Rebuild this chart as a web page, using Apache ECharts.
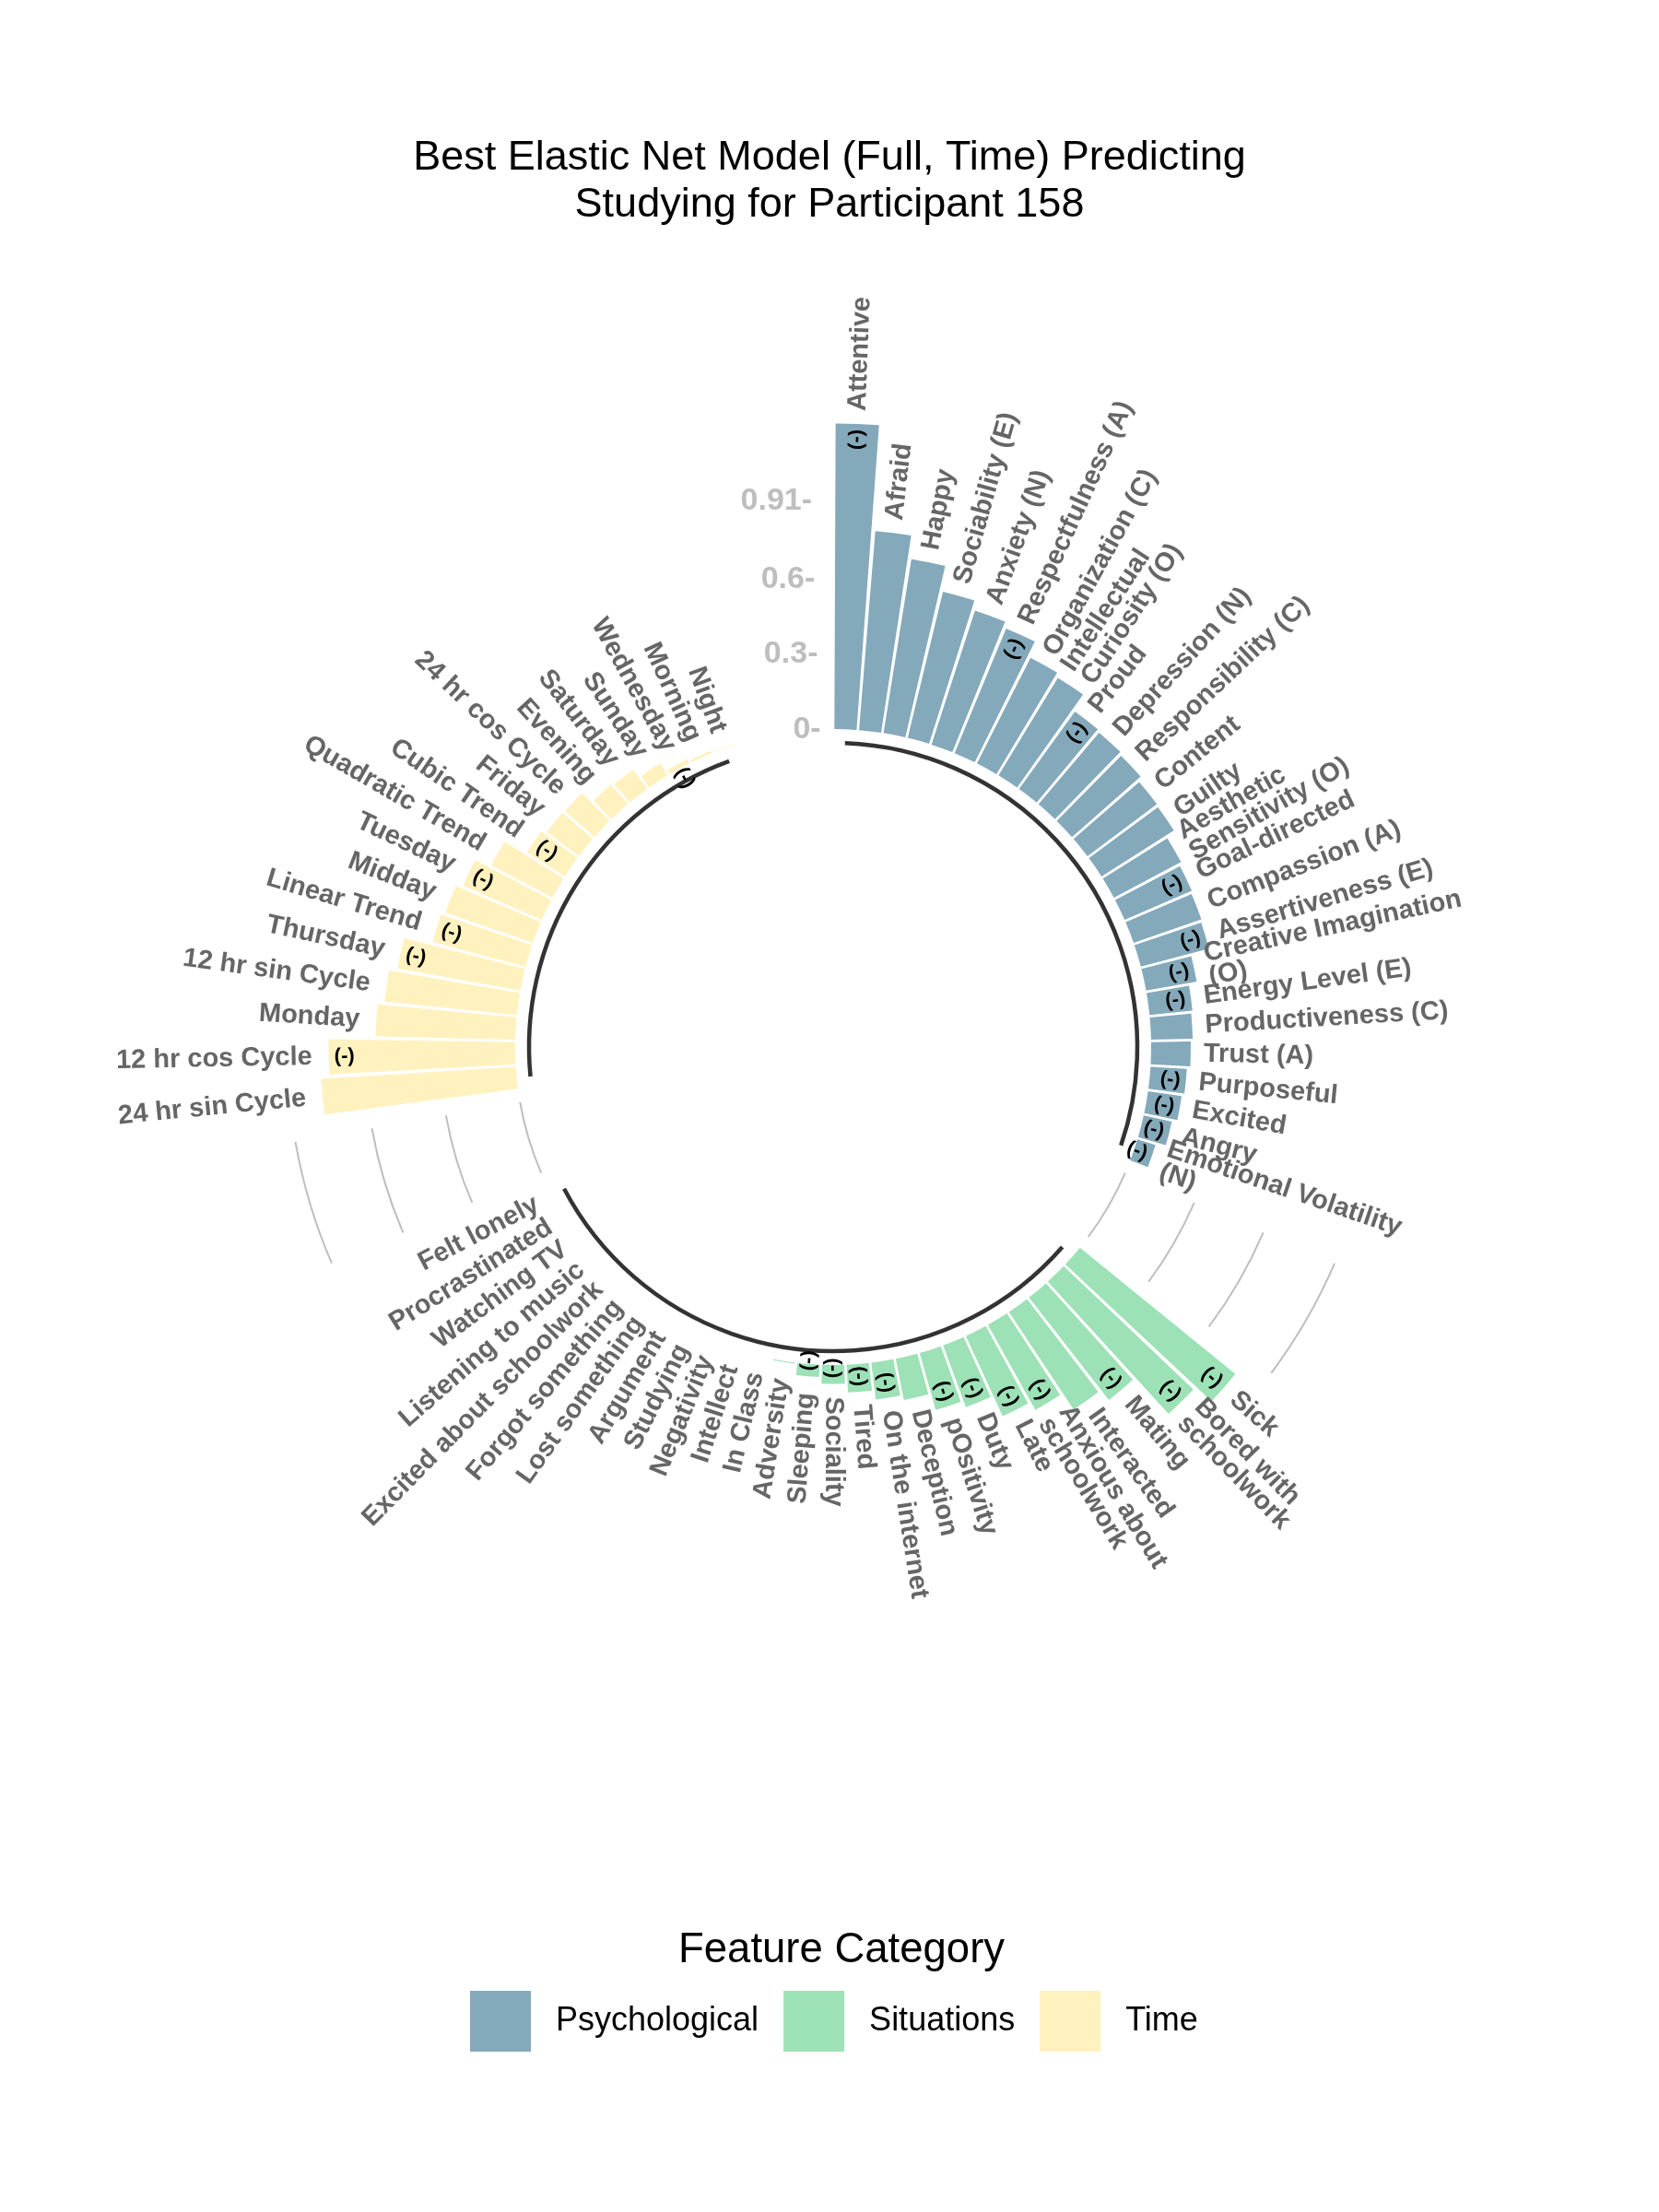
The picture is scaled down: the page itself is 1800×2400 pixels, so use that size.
<!DOCTYPE html>
<html>
<head>
<meta charset="utf-8">
<script src="https://cdn.jsdelivr.net/npm/echarts@6/dist/echarts.min.js"></script>
<style>
html,body{margin:0;padding:0;background:#ffffff;}
#chart{width:1800px;height:2400px;}
</style>
</head>
<body>
<div id="chart"></div>
<script>
// ---------------- DATA ----------------
const psychLabels = ["Attentive","Afraid","Happy","Sociability (E)","Anxiety (N)","Respectfulness (A)","Organization (C)","Intellectual\nCuriosity (O)","Proud","Depression (N)","Responsibility (C)","Content","Guilty","Aesthetic\nSensitivity (O)","Goal-directed","Compassion (A)","Assertiveness (E)","Creative Imagination\n(O)","Energy Level (E)","Productiveness (C)","Trust (A)","Purposeful","Excited","Angry","Emotional Volatility\n(N)"];
const psychValues = [1.219,0.796,0.702,0.600,0.562,0.538,0.472,0.455,0.381,0.374,0.365,0.346,0.342,0.303,0.292,0.286,0.281,0.205,0.172,0.166,0.158,0.145,0.135,0.115,0.075];
const psychNegative = [true,false,false,false,false,true,false,false,true,false,false,false,false,false,true,false,true,true,true,false,false,true,true,true,true];

const situationLabels = ["Sick","Bored with\nschoolwork","Mating","Interacted","Anxious about\nschoolwork","Late","Duty","pOsitivity","Deception","On the internet","Tired","Sociality","Sleeping","Adversity","In Class","Intellect","Negativity","Studying","Argument","Lost something","Forgot something","Excited about schoolwork","Listening to music","Watching TV","Procrastinated","Felt lonely"];
const situationValues = [0.799,0.714,0.518,0.467,0.389,0.352,0.263,0.236,0.168,0.148,0.111,0.075,0.049,0.004,0,0,0,0,0,0,0,0,0,0,0,0];
const situationNegative = [true,true,true,false,true,true,true,true,false,true,true,true,true,false,false,false,false,false,false,false,false,false,false,false,false,false];

const timeLabels = ["24 hr sin Cycle","12 hr cos Cycle","Monday","12 hr sin Cycle","Thursday","Linear Trend","Midday","Tuesday","Quadratic Trend","Cubic Trend","Friday","24 hr cos Cycle","Evening","Saturday","Sunday","Wednesday","Morning","Night"];
const timeValues = [0.778,0.744,0.557,0.530,0.497,0.383,0.368,0.342,0.277,0.179,0.160,0.156,0.103,0.096,0.057,0.020,0.010,0.002];
const timeNegative = [false,true,false,false,true,true,false,true,false,true,false,false,false,false,false,true,false,false];

const groupNames = ["Psychological","Situations","Time"];
const tickValues = [0, 0.3, 0.6, 0.91];
const tickLabels = ["0-", "0.3-", "0.6-", "0.91-"];

// ---------------- STYLE ----------------
const FONT = "'Liberation Sans', Arial, Helvetica, sans-serif";
const groupColors = ["#84A9BB", "#9DE1B6", "#FFF2BF"];
const EMPTY_BARS = 4;
const LABEL_OFFSET_RIGHT = 14;  // px beyond bar end (right half)
const LABEL_OFFSET_LEFT = 18;   // px beyond bar end (left half, flipped)
const NEG_OFFSET = 17;          // px inside bar end
const BASE_OFFSET = 15;         // px inside bar base for black arc

// ---------------- BUILD ----------------
const groups = [
  {labels: psychLabels, values: psychValues, neg: psychNegative},
  {labels: situationLabels, values: situationValues, neg: situationNegative},
  {labels: timeLabels, values: timeValues, neg: timeNegative}
];
const categories = [];
const groupStart = [];
groups.forEach((g, gi) => {
  groupStart.push(categories.length);
  g.labels.forEach(l => categories.push(l));
  for (let k = 0; k < EMPTY_BARS; k++) categories.push('gap_' + gi + '_' + k);
});
const nSlots = categories.length;

const barSeries = groups.map((g, gi) => {
  const arr = new Array(nSlots).fill(null);
  g.values.forEach((v, i) => { arr[groupStart[gi] + i] = v; });
  return {
    name: groupNames[gi], type: 'bar', coordinateSystem: 'polar', stack: 'all',
    barCategoryGap: '10%', data: arr, silent: true,
    itemStyle: {color: groupColors[gi]}
  };
});

const labelItems = [];
groups.forEach((g, gi) => {
  g.labels.forEach((l, i) => {
    labelItems.push({value: g.values[i], slot: groupStart[gi] + i, text: l, neg: g.neg[i]});
  });
});

function polarOf(params, api, v, slot) {
  const cs = params.coordSys;
  const p = api.coord([v, slot]);
  const dx = p[0] - cs.cx, dy = p[1] - cs.cy;
  return {cx: cs.cx, cy: cs.cy, r: Math.hypot(dx, dy), a: Math.atan2(dy, dx)};
}

const labelSeries = {
  type: 'custom', coordinateSystem: 'polar', silent: true, clip: false, z: 5,
  data: labelItems.map((d, i) => [d.value, d.slot, i]),
  renderItem: function (params, api) {
    const d = labelItems[api.value(2)];
    const P = polarOf(params, api, api.value(0), api.value(1));
    const th = ((P.a * 180 / Math.PI) + 90 + 360) % 360;
    const flip = th > 180.001;
    const rot = (flip ? 270 - th : 90 - th) * Math.PI / 180;
    const rl = P.r + (flip ? LABEL_OFFSET_LEFT : LABEL_OFFSET_RIGHT);
    const children = [{
      type: 'text', x: P.cx + rl * Math.cos(P.a), y: P.cy + rl * Math.sin(P.a), rotation: rot,
      style: {text: d.text, fill: '#666666', fontSize: 29, fontWeight: 'bold', fontFamily: FONT,
        align: flip ? 'right' : 'left', verticalAlign: 'middle', lineHeight: 26}
    }];
    if (d.neg) {
      const rn = P.r - NEG_OFFSET;
      children.push({
        type: 'text', x: P.cx + rn * Math.cos(P.a), y: P.cy + rn * Math.sin(P.a), rotation: rot,
        style: {text: '(-)', fill: '#000000', fontSize: 22, fontWeight: 'bold', fontFamily: FONT,
          align: 'center', verticalAlign: 'middle'}
      });
    }
    return {type: 'group', children: children};
  }
};

function arcElement(params, api, v, s1, s2, offset, stroke, width) {
  const A = polarOf(params, api, v, s1);
  const B = polarOf(params, api, v, s2);
  let a2 = B.a;
  while (a2 < A.a) a2 += Math.PI * 2;
  return {
    type: 'arc',
    shape: {cx: A.cx, cy: A.cy, r: A.r - offset, startAngle: A.a, endAngle: a2, clockwise: true},
    style: {stroke: stroke, lineWidth: width, fill: 'none'}
  };
}

const baseArcSeries = {
  type: 'custom', coordinateSystem: 'polar', silent: true, clip: false, z: 4,
  data: groups.map((g, gi) => [0, groupStart[gi], groupStart[gi] + g.labels.length - 1]),
  renderItem: function (params, api) {
    return arcElement(params, api, api.value(0), api.value(1), api.value(2), BASE_OFFSET, '#333333', 4.5);
  }
};

const gridData = [];
for (let gi = 0; gi < groups.length - 1; gi++) {
  const s1 = groupStart[gi] + groups[gi].labels.length;
  tickValues.forEach(t => gridData.push([t, s1, s1 + EMPTY_BARS - 1]));
}
const gridArcSeries = {
  type: 'custom', coordinateSystem: 'polar', silent: true, clip: false, z: 3,
  data: gridData,
  renderItem: function (params, api) {
    return arcElement(params, api, api.value(0), api.value(1), api.value(2), 0, '#BEBEBE', 2);
  }
};

const tickSeries = {
  type: 'custom', coordinateSystem: 'polar', silent: true, clip: false, z: 5,
  data: tickValues.map((t, i) => [t, nSlots - 1, i]),
  renderItem: function (params, api) {
    const p = api.coord([api.value(0), api.value(1)]);
    return {
      type: 'text', x: p[0], y: p[1],
      style: {text: tickLabels[api.value(2)], fill: '#BEBEBE', fontSize: 34, fontWeight: 'bold',
        fontFamily: FONT, align: 'right', verticalAlign: 'middle'}
    };
  }
};

const chart = echarts.init(document.getElementById('chart'), null, {renderer: 'canvas'});
chart.setOption({
  animation: false,
  backgroundColor: '#ffffff',
  title: [
    {text: 'Best Elastic Net Model (Full, Time) Predicting\nStudying for Participant 158',
     left: 'center', top: 141,
     textStyle: {fontSize: 45, fontWeight: 'normal', color: '#000000', fontFamily: FONT, lineHeight: 51}},
    {text: 'Feature Category', left: 731, top: 2088,
     textStyle: {fontSize: 45.5, fontWeight: 'normal', color: '#000000', fontFamily: FONT}}
  ],
  legend: {
    data: groupNames, left: 510, top: 2160, padding: 0, icon: 'rect',
    itemWidth: 66, itemHeight: 66, itemGap: 27, selectedMode: false,
    textStyle: {fontSize: 36, color: '#000000', fontFamily: FONT, padding: [0, 0, 0, 22]}
  },
  polar: {center: [904, 1136], radius: [345, 345 + 272 * 1.4]},
  angleAxis: {
    type: 'category', data: categories, startAngle: 90, clockwise: true, boundaryGap: true,
    axisLine: {show: false}, axisTick: {show: false}, axisLabel: {show: false}, splitLine: {show: false}
  },
  radiusAxis: {
    type: 'value', min: 0, max: 1.4,
    axisLine: {show: false}, axisTick: {show: false}, axisLabel: {show: false}, splitLine: {show: false}
  },
  series: barSeries.concat([gridArcSeries, baseArcSeries, labelSeries, tickSeries])
});
</script>
</body>
</html>
